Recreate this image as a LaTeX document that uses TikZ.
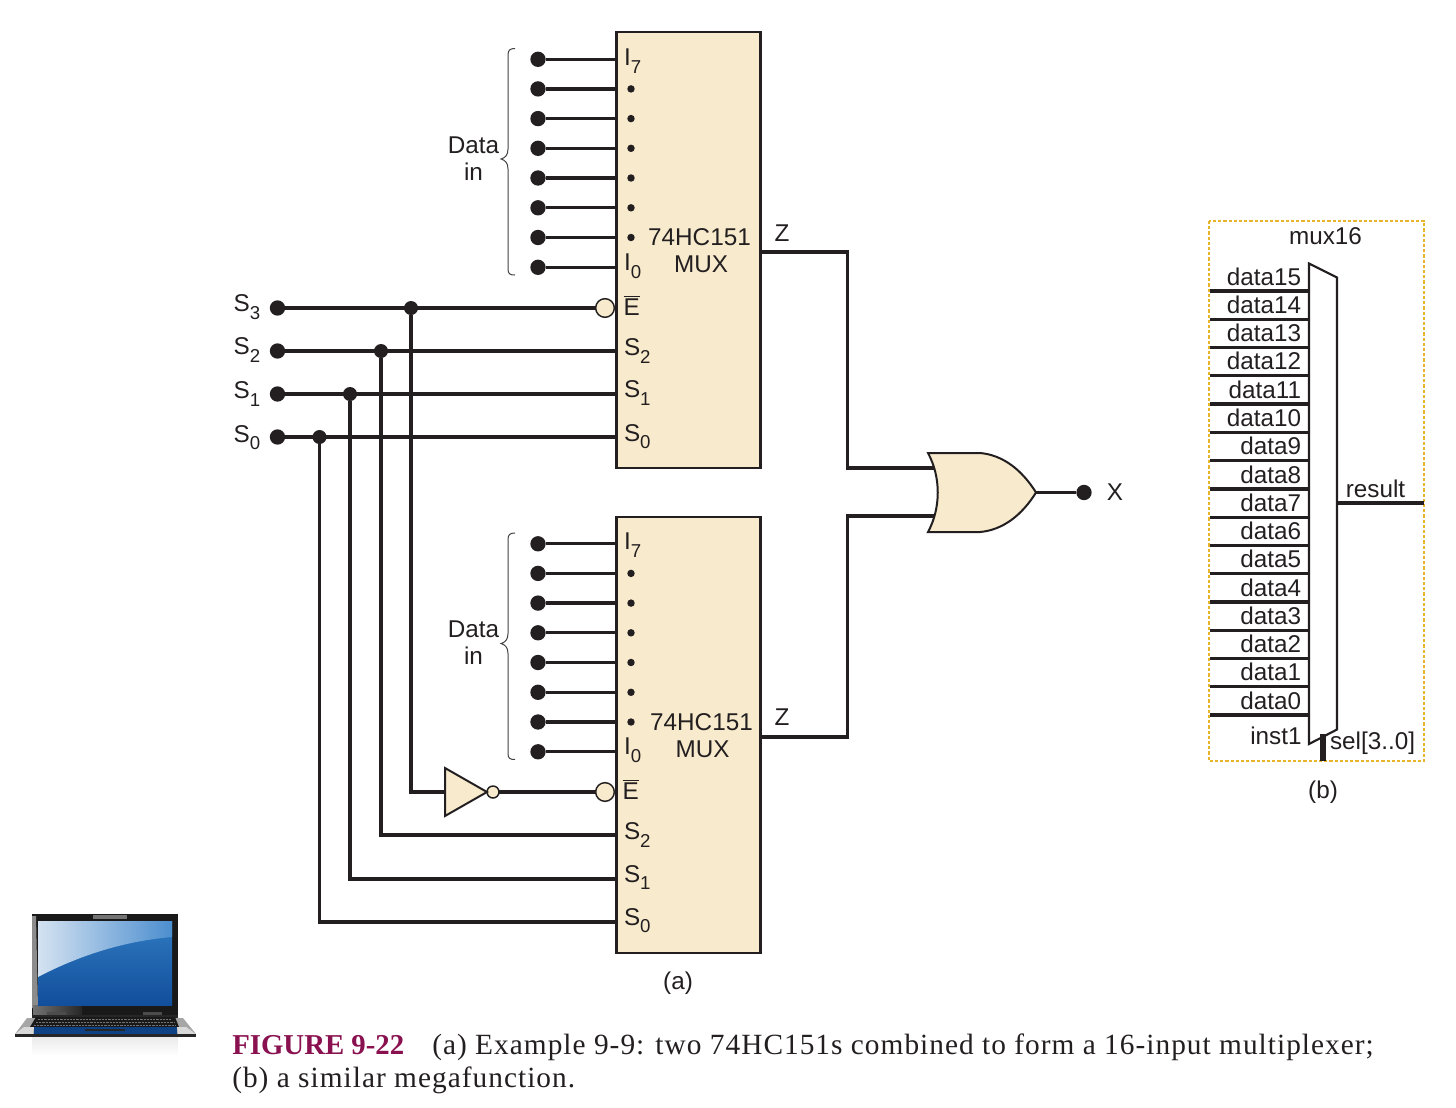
\documentclass[tikz,border=0pt]{standalone}
\usepackage{fontspec}
\setmainfont{Liberation Sans}
\newfontfamily\capfont{Liberation Serif}
\usetikzlibrary{calc}
\definecolor{ink}{HTML}{231F20}
\definecolor{cream}{HTML}{F8EBCD}
\definecolor{capred}{HTML}{8A1150}
\definecolor{dashy}{HTML}{E6B52C}
\definecolor{scrDark}{HTML}{124E9C}
\definecolor{scrMid}{HTML}{2F7AC0}
\definecolor{scrLight}{HTML}{D4E2F1}
\definecolor{scrLight2}{HTML}{4C8ECF}
\newcommand{\lowidx}[1]{\raisebox{-0.32em}{\fontsize{14pt}{14pt}\selectfont #1}}
\newcommand{\barE}{$\overline{\hbox{E}}$}
\tikzset{
  wire/.style={draw=ink,line width=2.5pt,line join=miter},
  pindot/.style={circle,fill=ink,inner sep=0pt,outer sep=0pt,minimum size=11.5pt},
  junction/.style={circle,fill=ink,inner sep=0pt,outer sep=0pt,minimum size=10.5pt},
  smalldot/.style={circle,fill=ink,inner sep=0pt,outer sep=0pt,minimum size=5.6pt},
  muxbox/.style={rectangle,draw=ink,fill=cream,line width=1.6pt,minimum width=108pt,minimum height=327pt,inner sep=0pt,outer sep=0pt},
  bubble/.style={circle,draw=ink,fill=cream,line width=1.1pt,inner sep=0pt,outer sep=0pt,minimum size=14pt},
  smallbubble/.style={circle,draw=ink,fill=cream,line width=1.1pt,inner sep=0pt,outer sep=0pt,minimum size=9pt},
  lbl/.style={font=\fontsize{18.2pt}{20pt}\selectfont,text=ink,inner sep=0pt,outer sep=0pt},
  lblw/.style={lbl,anchor=west},
  lble/.style={lbl,anchor=east},
  bracepath/.style={draw=ink!85,line width=.75pt},
  captext/.style={anchor=base west,inner sep=0pt,text=ink,font=\capfont\addfontfeature{LetterSpace=3.5}\fontsize{22pt}{24pt}\selectfont},
}
\begin{document}
\begin{tikzpicture}[x=.75pt,y=-.75pt]
\useasboundingbox (0,0) rectangle (1456,1107);

% --- multiplexer boxes
\node[muxbox] (muxA) at (688.5,250) {};
\node[muxbox] (muxB) at (688.5,735) {};

% --- data inputs, labels
\foreach \m/\off in {A/0,B/484.5}{
  \foreach \i/\yy in {0/267.3,1/237.5,2/207.8,3/178,4/148.3,5/118.6,6/88.9,7/59.3}{
    \node[pindot] (d\m\i) at (538,\yy+\off) {};
    \draw[wire] (d\m\i) -- (d\m\i -| mux\m.west);
  }
  \foreach \i/\yy in {1/237.5,2/207.8,3/178,4/148.3,5/118.6,6/88.9}{
    \node[smalldot] (p\m\i) at (631,\yy+\off) {};
  }
  \node[lblw] (i7\m) at (624,61+\off) {I\lowidx{7}};
  \node[lblw] (i0\m) at (624,266+\off) {I\lowidx{0}};
  \node[lbl] (data\m) at (473.5,145+\off) {Data};
  \node[lbl] (in\m) at (473.5,171.5+\off) {in};
  \draw[bracepath] (515,48.5+\off) .. controls (510,48.5+\off) and (508,50+\off) .. (508,55+\off)
    -- (508,149+\off) .. controls (508,155+\off) and (505,158+\off) .. (501,159+\off)
    .. controls (505,160+\off) and (508,163+\off) .. (508,169+\off)
    -- (508,269+\off) .. controls (508,274+\off) and (510,275+\off) .. (515,275+\off);
}
\node[lbl] (typeA) at (699.5,237) {74HC151};
\node[lbl] (muxtA) at (701,264.5) {MUX};
\node[lbl] (typeB) at (701.5,722) {74HC151};
\node[lbl] (muxtB) at (702.5,749.5) {MUX};
\node[lbl] (zA) at (782,233) {Z};
\node[lbl] (zB) at (782,717) {Z};

% --- control pins on the boxes
\node[lblw] (eA) at (623.5,305.5) {\barE};
\node[lblw] (s2A) at (624,351) {S\lowidx{2}};
\node[lblw] (s1A) at (624,393) {S\lowidx{1}};
\node[lblw] (s0A) at (624,436.5) {S\lowidx{0}};
\node[lblw] (eB) at (622.5,789.5) {\barE};
\node[lblw] (s2B) at (624,835) {S\lowidx{2}};
\node[lblw] (s1B) at (624,877.5) {S\lowidx{1}};
\node[lblw] (s0B) at (624,920.5) {S\lowidx{0}};

% --- select inputs
\node[lbl] (l3) at (247,307) {S\lowidx{3}};
\node[lbl] (l2) at (247,350) {S\lowidx{2}};
\node[lbl] (l1) at (247,394) {S\lowidx{1}};
\node[lbl] (l0) at (247,437.5) {S\lowidx{0}};
\node[pindot] (s3) at (277.5,308) {};
\node[pindot] (s2) at (277.5,351) {};
\node[pindot] (s1) at (277.5,394) {};
\node[pindot] (s0) at (277.5,437) {};
\node[junction] (j3) at (411,308) {};
\node[junction] (j2) at (381,351) {};
\node[junction] (j1) at (350,394) {};
\node[junction] (j0) at (319.5,437) {};
\coordinate (e2) at (381,835);
\coordinate (e1) at (350,879);
\coordinate (e0) at (319.5,922);
\node[bubble] (bubA) at (605,308) {};
\node[bubble] (bubB) at (605,792) {};
\draw[wire] (s3) -- (bubA);
\draw[wire] (s2) -- (s2 -| muxA.west);
\draw[wire] (s1) -- (s1 -| muxA.west);
\draw[wire] (s0) -- (s0 -| muxA.west);
\draw[wire] (j2) |- (e2 -| muxB.west);
\draw[wire] (j1) |- (e1 -| muxB.west);
\draw[wire] (j0) |- (e0 -| muxB.west);

% --- inverter
\coordinate (invin) at (445,792);
\coordinate (invtip) at (487,792);
\node[smallbubble] (invb) at (493,792) {};
\draw[wire] (j3) |- (invin);
\draw[wire] (invb) -- (bubB);
\draw[draw=ink,fill=cream,line width=1.5pt,line join=miter] (445,768) -- (invtip) -- (445,816) -- cycle;

% --- Z wires and OR gate
\coordinate (orA) at (940,468);
\coordinate (orB) at (940,516);
\coordinate (zwA) at (760.5,252);
\coordinate (zwB) at (760.5,737);
\draw[wire] (zwA) -- (847.5,252) |- (orA);
\draw[wire] (zwB) -- (847.5,737) |- (orB);
\coordinate (ortip) at (1036,492.5);
\node[pindot] (xdot) at (1084,492.5) {};
\draw[wire] (ortip) -- (xdot);
\draw[draw=ink,fill=cream,line width=1.5pt,line join=miter]
  (928,453) -- (980,453) .. controls (1003,455) and (1022,470) .. (ortip)
  .. controls (1022,515) and (1003,530) .. (980,532) -- (928,532)
  .. controls (941,508) and (941,477) .. cycle;
\node[lbl] (xl) at (1115,492) {X};
\node[lbl] (capa) at (678,983) {(a)};

% --- megafunction (b)
\draw[draw=dashy,line width=1.2pt,dash pattern=on 2.4pt off 1.5pt] (1209,221) rectangle (1424,761);
\node[lbl] (mtitle) at (1325.5,236) {mux16};
\foreach \i [evaluate=\i as \yy using 291+(15-\i)*28.27] in {15,14,...,0}{
  \coordinate (dl\i) at (1209.5,\yy);
  \coordinate (dr\i) at (1309,\yy);
  \draw[wire] (dl\i) -- (dr\i);
  \node[lble] (dt\i) at (1301,\yy-14.5) {data\i};
}
\draw[draw=ink,line width=1.6pt,line join=miter,fill=white] (1309,263.5) -- (1337,277.5) -- (1337,729.5) -- (1309,744) -- cycle;
\coordinate (resl) at (1337,503);
\coordinate (resr) at (1424,503);
\draw[wire] (resl) -- (resr);
\node[lbl] (rest) at (1375.5,488.5) {result};
\coordinate (selt) at (1323,734);
\coordinate (selb) at (1323,761);
\draw[draw=ink,line width=4.6pt] (selt) -- (selb);
\node[lblw] (selx) at (1330,743.5) {sel[3..0]};
\node[lble] (inst) at (1301.5,735.5) {inst1};
\node[lbl] (capb) at (1323,792.5) {(b)};

% --- laptop
\shade[bottom color=white,top color=black!8,draw=none] (32,1037) rectangle (178,1056);
\fill[black!90] (32,914) rectangle (178,1015);
\fill[black!45] (32,916) -- (36,916) -- (38,1008) -- (32,1008) -- cycle;
\fill[black!55] (93,915) rectangle (127,918.5);
\shade[left color=black!55,right color=black!85] (33,1005) rectangle (82,1015);
\shade[top color=scrMid,bottom color=scrDark] (38,921) rectangle (172,1005);
\shade[left color=scrLight,right color=scrLight2] (38,921) -- (172,921) -- (172,937)
  .. controls (125,941) and (80,955) .. (38,977) -- cycle;
\fill[black!85] (32,1015) rectangle (178,1018);
\fill[black!35] (27,1018) -- (183,1018) -- (196,1034) -- (15,1034) -- cycle;
\fill[black!90] (36,1017) -- (175,1017) -- (179,1027) -- (30,1027) -- cycle;
\fill[black!70] (47,1012) rectangle (66,1015);
\fill[black!70] (143,1012) rectangle (162,1015);
\foreach \r/\a/\b in {1019/38/172,1022/36/174,1025/34/176}{
  \draw[black!55,line width=.5pt,dash pattern=on 1.6pt off .8pt] (\a,\r) -- (\b,\r);
}
\fill[white!85!black] (15,1034) -- (24,1027) -- (34,1027) -- (33,1034) -- cycle;
\fill[white!85!black] (196,1034) -- (186,1027) -- (177,1027) -- (178,1034) -- cycle;
\fill[scrDark!85!black] (34,1027) rectangle (177,1034);
\fill[black!85] (85,1028.5) rectangle (125,1031);
\fill[black!85] (15,1034) rectangle (196,1037);

% --- caption
\node[captext,text=capred,font=\capfont\bfseries\fontsize{21.6pt}{24pt}\selectfont] (figno) at (232,1054) {FIGURE 9-22};
\node[captext] (capl1) at (432,1054) {(a) Example 9-9: two 74HC151s combined to form a 16-input multiplexer;};
\node[captext] (capl2) at (232,1087) {(b) a similar megafunction.};
\end{tikzpicture}
\end{document}
